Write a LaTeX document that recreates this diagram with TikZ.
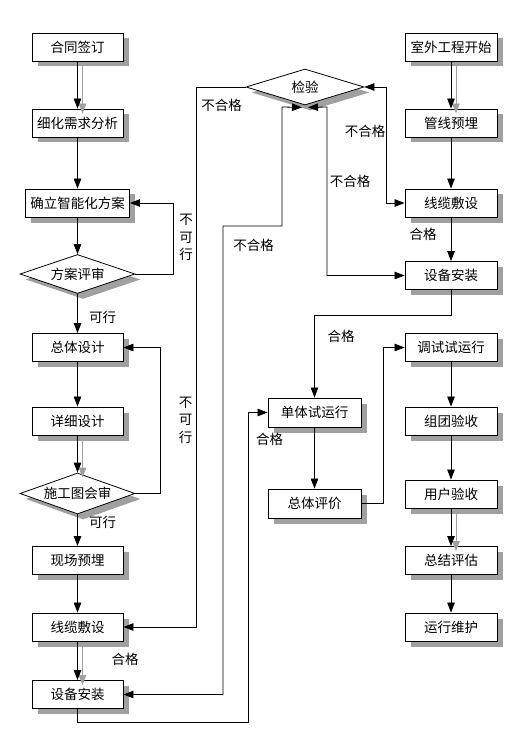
\documentclass[tikz,border=0pt]{standalone}
\usepackage{fontspec}
\newfontfamily\cjk{Noto Sans CJK SC}
\usetikzlibrary{shapes.geometric,arrows.meta,shadows,calc}
\definecolor{shgray}{RGB}{160,160,160}
\begin{document}
\begin{tikzpicture}[x=1pt,y=-1pt,
  font=\cjk\fontsize{13.5}{17.5}\selectfont,
  shd/.style={drop shadow={shadow xshift=5.5pt,shadow yshift=-5.5pt,fill=shgray,opacity=1,draw=none}},
  box/.style={draw,fill=white,line width=0.9pt,minimum width=91pt,minimum height=28pt,inner sep=0pt,shd},
  dia/.style={draw,fill=white,line width=0.8pt,diamond,shape aspect=3,inner sep=0pt,minimum width=115pt,minimum height=39pt,shd},
  tip/.tip={Triangle[length=10pt,width=7.5pt]},
  arr/.style={draw,line width=0.8pt,-tip},
  dbl/.style={draw,line width=0.8pt,tip-tip},
  arrsh/.style={draw=shgray,line width=0.8pt,-tip,fill=shgray},
  lbl/.style={inner sep=0pt,align=center}
]
\useasboundingbox (0,0) rectangle (521,743);
\fill[white] (0,0) rectangle (521,743);

% left column
\node[box] (ht) at (77.5,47) {合同签订};
\node[box] (xh) at (77.5,123) {细化需求分析};
\node[box,minimum width=104pt] (ql) at (77.5,203) {确立智能化方案};
\node[dia] (fa) at (77.5,274) {方案评审};
\node[box] (zt) at (77.5,347.5) {总体设计};
\node[box] (xx) at (77.5,421) {详细设计};
\node[dia,minimum height=41pt] (sg) at (77.5,493.5) {施工图会审};
\node[box] (xc) at (77.5,560.5) {现场预埋};
\node[box] (xlL) at (77.5,627) {线缆敷设};
\node[box] (sbL) at (77.5,694.5) {设备安装};

% right column
\node[box,minimum width=92pt] (sw) at (451,47) {室外工程开始};
\node[box,minimum width=92pt] (gx) at (451,123) {管线预埋};
\node[box,minimum width=92pt] (xlR) at (451,203) {线缆敷设};
\node[box,minimum width=92pt] (sbR) at (451,275.5) {设备安装};
\node[box,minimum width=92pt] (ts) at (451,347.5) {调试试运行};
\node[box,minimum width=92pt] (zc) at (451,421) {组团验收};
\node[box,minimum width=92pt] (yh) at (451,494) {用户验收};
\node[box,minimum width=92pt] (zj) at (451,560.5) {总结评估};
\node[box,minimum width=92pt] (yw) at (451,627) {运行维护};

% middle
\node[dia,minimum width=118pt,minimum height=36pt] (jy) at (305,87) {检验};
\node[box,minimum width=93pt,minimum height=29pt] (dt) at (314.5,412.5) {单体试运行};
\node[box,minimum width=93pt,minimum height=29pt] (zp) at (314.5,503.5) {总体评价};

\coordinate (jyb1) at ($(jy.south)+(-3,2)$);
\coordinate (jyb2) at ($(jy.south)+(3,2)$);

% arrow shadows
\draw[arrsh] ([shift={(5,5)}]ht.south) -- ([shift={(5,5)}]xh.north);
\draw[arrsh] ([shift={(5,5)}]xx.south) -- ([shift={(5,5)}]sg.north);
\draw[arrsh] ([shift={(5,5)}]xlL.south) -- ([shift={(5,5)}]sbL.north);
\draw[arrsh] ([shift={(5,5)}]sw.south) -- ([shift={(5,5)}]gx.north);
\draw[arrsh] ([shift={(5,5)}]yh.south) -- ([shift={(5,5)}]zj.north);

% left connectors
\draw[arr] (ht) -- (xh);
\draw[arr] (xh) -- (ql);
\draw[arr] (ql) -- (fa);
\draw[arr] (fa.east) -- ++(38,0) |- (ql.east);
\draw[arr] (fa) -- (zt);
\draw[arr] (zt) -- (xx);
\draw[arr] (xx) -- (sg);
\draw[arr] (sg.east) -- ++(25,0) |- (zt.east);
\draw[arr] (sg) -- (xc);
\draw[arr] (xc) -- (xlL);
\draw[arr] (xlL) -- (sbL);

% inspection loops
\draw[arr] (jy.west) -- ++(-49,0) |- (xlL.east);
\draw[dbl] (sbL.east) -| (223,226) -| (282,107) -- (jyb1);
\draw[dbl] (jyb2) -- (327,107) |- (sbR.west);
\draw[dbl] (jy.east) -- ++(22,0) |- (xlR.west);

% right connectors
\draw[arr] (sw) -- (gx);
\draw[arr] (gx) -- (xlR);
\draw[arr] (xlR) -- (sbR);
\draw[arr] (sbR.south) -- ++(0,25) -| (dt.north);
\draw[arr] (dt) -- (zp);
\draw[arr] (zp.east) -- ++(22,0) |- (ts.west);
\draw[arr] (ts) -- (zc);
\draw[arr] (zc) -- (yh);
\draw[arr] (yh) -- (zj);
\draw[arr] (zj) -- (yw);
\draw[arr] (sbL.south) -- ++(0,13) -| ($(dt.west)+(-19,0)$) -- (dt.west);

% labels
\node[lbl] (l1) at (186,237.5) {不\\可\\行};
\node[lbl] (l2) at (185.5,420) {不\\可\\行};
\node[lbl] (l3) at (102.5,317) {可行};
\node[lbl] (l4) at (102.5,522) {可行};
\node[lbl] (l5) at (125,659) {合格};
\node[lbl] (l6) at (221.5,105) {不合格};
\node[lbl] (l7) at (253.5,245) {不合格};
\node[lbl] (l8) at (350,181) {不合格};
\node[lbl] (l9) at (365,131) {不合格};
\node[lbl] (l10) at (423,234) {合格};
\node[lbl] (l11) at (341,336) {合格};
\node[lbl] (l12) at (269.5,439) {合格};
\end{tikzpicture}
\end{document}
